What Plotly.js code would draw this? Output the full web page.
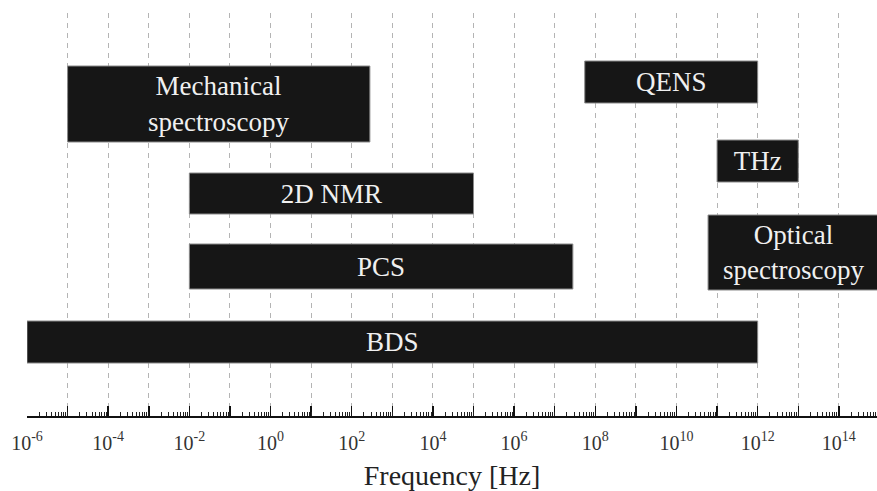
<!DOCTYPE html>
<html>
<head>
<meta charset="utf-8">
<script src="https://cdn.plot.ly/plotly-3.0.1.min.js"></script>
<style>
  html, body { margin: 0; padding: 0; background: #fff; }
  #chart { width: 877px; height: 491px; }
</style>
</head>
<body>
<div id="chart"></div>
<script>
// Frequency windows covered by each experimental technique (Hz)
const techniques = ['Mechanical<br>spectroscopy', 'QENS', 'THz', 'Optical<br>spectroscopy', '2D NMR', 'PCS', 'BDS'];
const freqLow  = [1e-5, 5.5e7, 1e11, 6e10, 1e-2, 1e-2, 1e-6];
const freqHigh = [2.8e2, 1e12, 1e13, 1e15, 1e5, 2.8e7, 1e12];

// Decade exponents: labelled decades and the dashed decade grid
const labelExps = [-6, -4, -2, 0, 2, 4, 6, 8, 10, 12, 14];
const gridExps = [-5, -4, -3, -2, -1, 0, 1, 2, 3, 4, 5, 6, 7, 8, 9, 10, 11, 12, 13, 14];

// Row placement of each band (vertical centre and thickness, in row units)
const rowCenter = [91, 69, 148, 239.5, 180.5, 253.5, 329];
const rowThick  = [76, 42, 42, 75, 41, 45, 42];

const serif = 'Liberation Serif, Times New Roman, serif';
const xRange = [-6, 14.94];

const bands = {
  type: 'bar',
  orientation: 'h',
  y: rowCenter,
  width: rowThick,
  base: freqLow,
  x: freqHigh.map((h, i) => h - freqLow[i]),
  text: techniques,
  textposition: 'inside',
  insidetextanchor: 'middle',
  textangle: 0,
  textfont: { family: serif, size: 27, color: '#f0f0f0' },
  marker: { color: '#161616', line: { color: '#8a8a8a', width: 1 } },
  hoverinfo: 'skip',
  showlegend: false,
  cliponaxis: true
};

// Invisible carrier trace for the decade grid / decade tick axis
const gridCarrier = {
  type: 'scatter',
  x: [1e-5], y: [0],
  xaxis: 'x2',
  mode: 'markers',
  marker: { opacity: 0 },
  hoverinfo: 'skip',
  showlegend: false
};

const layout = {
  width: 877,
  height: 491,
  margin: { l: 27, r: 0, t: 13, b: 75 },
  paper_bgcolor: '#ffffff',
  plot_bgcolor: '#ffffff',
  uniformtext: { mode: 'show', minsize: 27 },
  xaxis: {
    type: 'log',
    range: xRange,
    tickmode: 'array',
    tickvals: labelExps.map(e => Math.pow(10, e)),
    ticktext: labelExps.map(e => '10<sup>' + e + '</sup>'),
    ticks: 'inside',
    ticklen: 10,
    tickwidth: 1.5,
    tickcolor: '#111',
    ticklabelstandoff: 8,
    minor: { dtick: 'D1', ticks: 'inside', ticklen: 4, tickwidth: 1, tickcolor: '#222', showgrid: false },
    showgrid: false,
    zeroline: false,
    showline: true,
    linecolor: '#111',
    linewidth: 1.5,
    tickfont: { family: serif, size: 20, color: '#333' },
    title: { text: 'Frequency [Hz]', font: { family: serif, size: 28, color: '#222' }, standoff: 14 },
    fixedrange: true
  },
  xaxis2: {
    type: 'log',
    overlaying: 'x',
    side: 'bottom',
    range: xRange,
    tickmode: 'array',
    tickvals: gridExps.map(e => Math.pow(10, e)),
    showticklabels: false,
    ticks: 'inside',
    ticklen: 10,
    tickwidth: 1.5,
    tickcolor: '#111',
    showgrid: true,
    gridcolor: '#b4b4b4',
    gridwidth: 1,
    griddash: '5px,5px',
    zeroline: false,
    showline: false,
    layer: 'below traces'
  },
  yaxis: {
    range: [403, 0],
    visible: false,
    showgrid: false,
    zeroline: false,
    fixedrange: true
  },
  bargap: 0
};

Plotly.newPlot('chart', [gridCarrier, bands], layout, { staticPlot: true, displayModeBar: false });
</script>
</body>
</html>
